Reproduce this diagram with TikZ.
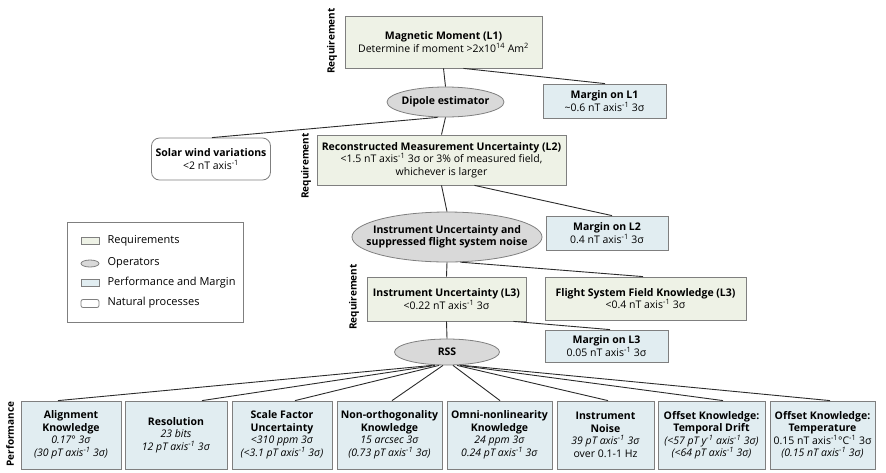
\documentclass[tikz,border=0pt]{standalone}
\usepackage{fontspec}
\setmainfont{Open Sans}
\usetikzlibrary{calc,shapes.geometric}
\newcommand{\sg}{σ}
\newcommand{\axi}{axis\textsuperscript{-1}}
\definecolor{reqc}{HTML}{EEF2E6}
\definecolor{perfc}{HTML}{E1EDF1}
\definecolor{opc}{HTML}{D9D9D9}
\definecolor{bordc}{HTML}{7F7F7F}
\definecolor{linec}{HTML}{2B2B2B}
\tikzset{
  every node/.style={font=\fontsize{10.5}{12.5}\selectfont},
  req/.style={draw=bordc, fill=reqc, align=center, inner sep=0pt, line width=0.8pt},
  perf/.style={draw=bordc, fill=perfc, align=center, inner sep=0pt, line width=0.8pt},
  op/.style={ellipse, draw=bordc, fill=opc, inner sep=0pt, line width=0.8pt},
  optext/.style={align=center, inner sep=0pt},
  nat/.style={draw=bordc, fill=white, rounded corners=8pt, align=center, inner sep=0pt, line width=0.8pt},
  conn/.style={draw=linec, line width=0.9pt},
  rotlab/.style={rotate=90, font=\fontsize{10}{12}\selectfont\bfseries},
  legtext/.style={anchor=west, font=\fontsize{11}{13}\selectfont}
}
\begin{document}
\begin{tikzpicture}[x=1pt,y=-1pt]
\useasboundingbox (0,0) rectangle (886,472);

% rotated labels
\node[rotlab] (rq1) at (332,41) {Requirement};
\node[rotlab] (rq2) at (306,166) {Requirement};
\node[rotlab] (rq3) at (354,297) {Requirement};
\node[rotlab] (pf) at (10,434) {Performance};

% level 1
\node[req, minimum width=197, minimum height=52] (l1) at (443.5,42)
  {\textbf{Magnetic Moment (L1)}\\Determine if moment >2x10\textsuperscript{14} Am\textsuperscript{2}};
\node[op, minimum width=117, minimum height=30] (dip) at (445.5,102) {};
\node[optext] (dipt) at (dip.center) {\textbf{Dipole estimator}};
\node[perf, minimum width=123, minimum height=34] (m1) at (604.5,101)
  {\textbf{Margin on L1}\\\textasciitilde0.6 nT \axi{} 3\sg};
\node[nat, minimum width=119, minimum height=42] (sol) at (211,159)
  {\textbf{Solar wind variations}\\<2 nT \axi};

% level 2
\node[req, minimum width=249, minimum height=50] (l2) at (441.5,160)
  {\textbf{Reconstructed Measurement Uncertainty (L2)}\\<1.5 nT \axi{} 3\sg{} or 3\% of measured field,\\whichever is larger};
\node[op, minimum width=190, minimum height=50] (op2) at (447,237) {};
\node[optext] (op2t) at (op2.center)
  {\textbf{Instrument Uncertainty and}\\\textbf{suppressed flight system noise}};
\node[perf, minimum width=122, minimum height=34] (m2) at (607,233)
  {\textbf{Margin on L2}\\0.4 nT \axi{} 3\sg};

% level 3
\node[req, minimum width=201, minimum height=43] (fs) at (645.5,298.5)
  {\textbf{Flight System Field Knowledge (L3)}\\<0.4 nT \axi{} 3\sg};
\node[req, minimum width=159, minimum height=44] (l3) at (446.5,299)
  {\textbf{Instrument Uncertainty (L3)}\\<0.22 nT \axi{} 3\sg};
\node[perf, minimum width=123, minimum height=32] (m3) at (606.5,346)
  {\textbf{Margin on L3}\\0.05 nT \axi{} 3\sg};
\node[op, minimum width=105, minimum height=26] (rss) at (447,352) {};
\node[optext] (rsst) at (rss.center) {\textbf{RSS}};

% performance boxes
\node[perf, minimum width=100, minimum height=68] (b1) at (71,435)
  {\textbf{Alignment}\\\textbf{Knowledge}\\\textit{0.17° 3\sg}\\\textit{(30 pT \axi{} 3\sg)}};
\node[perf, minimum width=102, minimum height=68] (b2) at (176,435)
  {\textbf{Resolution}\\\textit{23 bits}\\\textit{12 pT \axi{} 3\sg}};
\node[perf, minimum width=100, minimum height=68] (b3) at (282,435)
  {\textbf{Scale Factor}\\\textbf{Uncertainty}\\\textit{<310 ppm 3\sg}\\\textit{(<3.1 pT \axi{} 3\sg)}};
\node[perf, minimum width=105, minimum height=68] (b4) at (389.5,435)
  {\textbf{Non-orthogonality}\\\textbf{Knowledge}\\\textit{15 arcsec 3\sg}\\\textit{(0.73 pT \axi{} 3\sg)}};
\node[perf, minimum width=105, minimum height=68] (b5) at (499.5,435)
  {\textbf{Omni-nonlinearity}\\\textbf{Knowledge}\\\textit{24 ppm 3\sg}\\\textit{0.24 pT \axi{} 3\sg}};
\node[perf, minimum width=97, minimum height=68] (b6) at (605.5,435)
  {\textbf{Instrument}\\\textbf{Noise}\\\textit{39 pT \axi{} 3\sg}\\over 0.1-1 Hz};
\node[perf, minimum width=107, minimum height=68] (b7) at (711.5,435)
  {\textbf{Offset Knowledge:}\\\textbf{Temporal Drift}\\\textit{(<57 pT y\textsuperscript{-1} \axi{} 3\sg)}\\\textit{(<64 pT \axi{} 3\sg)}};
\node[perf, minimum width=105, minimum height=68] (b8) at (822.5,435)
  {\textbf{Offset Knowledge:}\\\textbf{Temperature}\\0.15 nT \axi{}°C\textsuperscript{-1} 3\sg\\\textit{(0.15 nT \axi{} 3\sg)}};

% legend
\node[draw=bordc, line width=0.8pt, minimum width=176, minimum height=100, inner sep=0pt] (leg) at (155,272) {};
\node[req, minimum width=18, minimum height=7] (lg1) at (90,240.5) {};
\node[legtext] (lt1) at (104,241) {Requirements};
\node[op, minimum width=18, minimum height=7] (lg2) at (90,263.5) {};
\node[legtext] (lt2) at (104,263) {Operators};
\node[perf, minimum width=18, minimum height=7] (lg3) at (90,283) {};
\node[legtext] (lt3) at (104,283) {Performance and Margin};
\node[nat, rounded corners=2pt, minimum width=18, minimum height=8] (lg4) at (90,303.5) {};
\node[legtext] (lt4) at (104,303) {Natural processes};

% connectors
\draw[conn] (l1.south) -- (dip.north);
\draw[conn] ($(l1.south)+(20,0)$) -- ($(m1.north)+(0.5,0)$);
\draw[conn] ($(dip.south)+(-8,0)$) -- ($(sol.north)+(1,0)$);
\draw[conn] (dip.south) -- (l2.north);
\draw[conn] ($(l2.south)+(33,0)$) -- ($(m2.north)+(5,0)$);
\draw[conn] (l2.south) -- (op2.north);
\draw[conn] (op2.-62) -- ($(fs.north)+(-2.5,0)$);
\draw[conn] (op2.south) -- (l3.north);
\draw[conn] ($(l3.south)+(67,0)$) -- ($(m3.north)+(3.5,0)$);
\draw[conn] (l3.south) -- (rss.north);
\draw[conn] ($(rss.south)+(-15,0)$) -- ($(b1.north)+(-13,0)$);
\draw[conn] ($(rss.south)+(-12,0)$) -- ($(b2.north)+(26,0)$);
\draw[conn] ($(rss.south)+(-8,0)$) -- ($(b3.north)+(13,0)$);
\draw[conn] ($(rss.south)+(-4,0)$) -- ($(b4.north)+(2.5,0)$);
\draw[conn] ($(rss.south)+(6,0)$) -- ($(b5.north)+(0.5,0)$);
\draw[conn] ($(rss.south)+(10,0)$) -- ($(b6.north)+(2.5,0)$);
\draw[conn] ($(rss.south)+(13,0)$) -- ($(b7.north)+(11.5,0)$);
\draw[conn] ($(rss.south)+(16,0)$) -- ($(b8.north)+(7.5,0)$);
\end{tikzpicture}
\end{document}
